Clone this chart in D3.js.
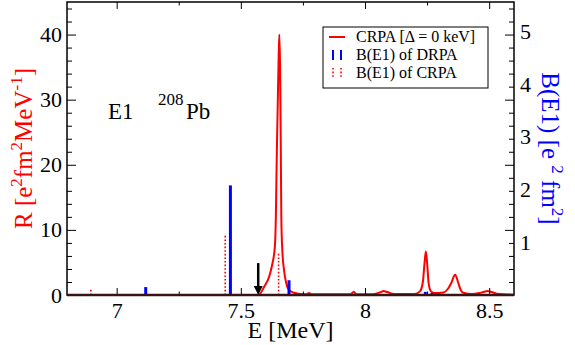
<!DOCTYPE html>
<html>
<head>
<meta charset="utf-8">
<script src="https://cdn.jsdelivr.net/npm/d3@7"></script>
<style>
	body { margin: 0; background: #fff; }
	svg { display: block; }
	svg text { font-family: "Liberation Serif", "Times New Roman", serif; }
</style>
</head>
<body>
<div id="chart"></div>
<script>
// CRPA strength function R(E)
var crpaE = [6.80, 7.570, 7.574, 7.594, 7.614, 7.627, 7.637, 7.641, 7.643, 7.645, 7.648, 7.652,
	7.655, 7.658, 7.660, 7.661, 7.663, 7.667, 7.674, 7.683, 7.694, 7.714, 7.741, 7.765, 7.774,
	7.783, 7.940, 7.955, 7.965, 8.030, 8.060, 8.075, 8.090, 8.115, 8.200, 8.222, 8.233, 8.240,
	8.245, 8.250, 8.256, 8.265, 8.280, 8.316, 8.335, 8.347, 8.363, 8.376, 8.385, 8.396, 8.430,
	8.460, 8.480, 8.493, 8.510, 8.530, 8.560, 8.600];
var crpaR = [0, 0, 0.05, 1.27, 2.8, 4.8, 7.4, 12, 17, 22, 28, 36,
	40, 35, 27, 22, 12, 6.9, 3.8, 1.8, 0.76, 0.35, 0.15, 0.12, 0.3,
	0.12, 0.1, 0.45, 0.12, 0.12, 0.4, 0.6, 0.45, 0.15, 0.15, 0.6, 2.0, 5.0,
	6.7, 5.0, 1.9, 0.6, 0.3, 0.4, 1.0, 1.8, 3.1, 1.8, 0.8, 0.35, 0.15,
	0.3, 0.5, 0.6, 0.45, 0.2, 0.1, 0.05];

// B(E1) of DRPA
var drpaE = [7.117, 7.458, 7.694, 8.243, 8.270];
var drpaB = [0.15, 2.08, 0.28, 0.06, 0.04];

// B(E1) of CRPA
var crpaBE = [6.896, 7.437, 7.652];
var crpaB = [0.12, 1.14, 0.82];

var xTicks = [7, 7.5, 8, 8.5];
var xMinor = [7.25, 7.75, 8.25];
var rTicks = [0, 10, 20, 30, 40];
var rMinor = [2, 4, 6, 8, 12, 14, 16, 18, 22, 24, 26, 28, 32, 34, 36, 38, 42, 44];
var bTicks = [1, 2, 3, 4, 5];
var threshold = 7.57;

var W = 575, H = 345;
var margin = {left: 67, right: 61, top: 2, bottom: 50};
var serif = '"Liberation Serif", "Times New Roman", serif';

var x = d3.scaleLinear().domain([6.8, 8.6]).range([margin.left, W - margin.right]);
var y = d3.scaleLinear().domain([0, 45]).range([H - margin.bottom, margin.top]);
var yB = d3.scaleLinear().domain([0, 5.56]).range([H - margin.bottom, margin.top]);

var svg = d3.select('#chart').append('svg')
	.attr('width', W)
	.attr('height', H)
	.attr('font-family', serif);

// CRPA curve
var line = d3.line()
	.x(function (d) { return x(d[0]); })
	.y(function (d) { return y(d[1]); })
	.curve(d3.curveMonotoneX);

svg.append('path')
	.datum(d3.zip(crpaE, crpaR))
	.attr('d', line)
	.attr('fill', 'none')
	.attr('stroke', '#ff0000')
	.attr('stroke-width', 2);

// B(E1) of CRPA (dotted red)
svg.selectAll('line.bcrpa').data(d3.zip(crpaBE, crpaB))
	.enter().append('line')
	.attr('class', 'bcrpa')
	.attr('x1', function (d) { return x(d[0]); })
	.attr('x2', function (d) { return x(d[0]); })
	.attr('y1', yB(0))
	.attr('y2', function (d) { return yB(d[1]); })
	.attr('stroke', '#ff0000')
	.attr('stroke-width', 1.6)
	.attr('stroke-dasharray', '1.6,2');

// B(E1) of DRPA (blue)
svg.selectAll('line.bdrpa').data(d3.zip(drpaE, drpaB))
	.enter().append('line')
	.attr('class', 'bdrpa')
	.attr('x1', function (d) { return x(d[0]); })
	.attr('x2', function (d) { return x(d[0]); })
	.attr('y1', yB(0))
	.attr('y2', function (d) { return yB(d[1]); })
	.attr('stroke', '#0000ff')
	.attr('stroke-width', 3);

// threshold arrow
var ax = x(threshold);
svg.append('line')
	.attr('x1', ax).attr('x2', ax)
	.attr('y1', y(4.9)).attr('y2', y(0) - 7)
	.attr('stroke', '#000').attr('stroke-width', 2.5);
svg.append('path')
	.attr('d', 'M' + (ax - 4.5) + ',' + (y(0) - 9) + 'L' + (ax + 4.5) + ',' + (y(0) - 9) + 'L' + ax + ',' + y(0) + 'Z')
	.attr('fill', '#000');

// axes
function clean(g) {
	g.attr('font-family', serif).attr('font-size', null);
	g.select('.domain').remove();
	g.selectAll('line').attr('stroke', '#000');
	g.selectAll('text').attr('font-size', 22).attr('fill', '#000');
}

svg.append('g').attr('transform', 'translate(0,' + y(0) + ')')
	.call(d3.axisBottom(x).tickValues(xTicks).tickSize(-7).tickPadding(7).tickFormat(function (d) { return d; }))
	.call(clean);
svg.append('g').attr('transform', 'translate(0,' + y(0) + ')')
	.call(d3.axisBottom(x).tickValues(xMinor).tickSize(-3.5).tickFormat(''))
	.call(clean);
svg.append('g').attr('transform', 'translate(0,' + margin.top + ')')
	.call(d3.axisTop(x).tickValues(xTicks).tickSize(-7).tickFormat(''))
	.call(clean);
svg.append('g').attr('transform', 'translate(0,' + margin.top + ')')
	.call(d3.axisTop(x).tickValues(xMinor).tickSize(-3.5).tickFormat(''))
	.call(clean);

svg.append('g').attr('transform', 'translate(' + margin.left + ',0)')
	.call(d3.axisLeft(y).tickValues(rTicks).tickSize(-9).tickPadding(5))
	.call(clean);
svg.append('g').attr('transform', 'translate(' + margin.left + ',0)')
	.call(d3.axisLeft(y).tickValues(rMinor).tickSize(-5).tickFormat(''))
	.call(clean);
svg.append('g').attr('transform', 'translate(' + (W - margin.right) + ',0)')
	.call(d3.axisRight(y).tickValues(rTicks).tickSize(-9).tickFormat(''))
	.call(clean);
svg.append('g').attr('transform', 'translate(' + (W - margin.right) + ',0)')
	.call(d3.axisRight(y).tickValues(rMinor).tickSize(-5).tickFormat(''))
	.call(clean);
svg.append('g').attr('transform', 'translate(' + (W - margin.right) + ',0)')
	.call(d3.axisRight(yB).tickValues(bTicks).tickSize(0).tickPadding(6).tickFormat(d3.format('d')))
	.call(clean);

// frame
svg.append('rect')
	.attr('x', margin.left).attr('y', margin.top)
	.attr('width', W - margin.left - margin.right)
	.attr('height', H - margin.top - margin.bottom)
	.attr('fill', 'none')
	.attr('stroke', '#000')
	.attr('stroke-width', 1.5);
svg.append('line')
	.attr('x1', margin.left).attr('x2', W - margin.right)
	.attr('y1', y(0)).attr('y2', y(0))
	.attr('stroke', '#3a1414').attr('stroke-width', 2.5);

// axis titles
svg.append('text')
	.attr('x', x(7.7)).attr('y', 338)
	.attr('text-anchor', 'middle')
	.attr('font-size', 24)
	.text('E [MeV]');

var tl = svg.append('text')
	.attr('transform', 'translate(32,' + ((margin.top + y(0)) / 2) + ') rotate(-90)')
	.attr('text-anchor', 'middle')
	.attr('font-size', 25)
	.attr('fill', '#ff0000');
tl.append('tspan').text('R [e');
tl.append('tspan').attr('font-size', 17).attr('dy', -10).text('2');
tl.append('tspan').attr('dy', 10).text('fm');
tl.append('tspan').attr('font-size', 17).attr('dy', -10).text('2');
tl.append('tspan').attr('dy', 10).text('MeV');
tl.append('tspan').attr('font-size', 17).attr('dy', -10).text('-1');
tl.append('tspan').attr('dy', 10).text(']');

var tr = svg.append('text')
	.attr('transform', 'translate(542,' + ((margin.top + y(0)) / 2) + ') rotate(90)')
	.attr('text-anchor', 'middle')
	.attr('font-size', 25)
	.attr('fill', '#0000ff');
tr.append('tspan').text('B(E1) [e ');
tr.append('tspan').attr('font-size', 17).attr('dy', -10).text('2');
tr.append('tspan').attr('dy', 10).text(' fm');
tr.append('tspan').attr('font-size', 17).attr('dy', -10).text('2');
tr.append('tspan').attr('dy', 10).text(']');

// label E1 208Pb
svg.append('text').attr('x', 108).attr('y', 119).attr('font-size', 23).text('E1');
svg.append('text').attr('x', 158).attr('y', 105).attr('font-size', 17).text('208');
svg.append('text').attr('x', 186).attr('y', 119).attr('font-size', 23).text('Pb');

// legend
var lg = svg.append('g');
lg.append('rect')
	.attr('x', 323).attr('y', 27).attr('width', 165).attr('height', 61)
	.attr('fill', '#fff').attr('stroke', '#000').attr('stroke-width', 1);
lg.append('line').attr('x1', 329).attr('x2', 345).attr('y1', 37).attr('y2', 37)
	.attr('stroke', '#ff0000').attr('stroke-width', 2);
[333, 341].forEach(function (lx) {
	lg.append('line').attr('x1', lx).attr('x2', lx).attr('y1', 50).attr('y2', 60)
		.attr('stroke', '#0000ff').attr('stroke-width', 2);
	lg.append('line').attr('x1', lx).attr('x2', lx).attr('y1', 68).attr('y2', 78)
		.attr('stroke', '#ff0000').attr('stroke-width', 1.6).attr('stroke-dasharray', '1.6,2');
});
var legendText = ['CRPA [\u0394 = 0 keV]', 'B(E1) of DRPA', 'B(E1) of CRPA'];
lg.selectAll('text.lt').data(legendText)
	.enter().append('text')
	.attr('class', 'lt')
	.attr('x', 356)
	.attr('y', function (d, i) { return 42 + i * 18; })
	.attr('font-size', 16)
	.text(function (d) { return d; });
</script>
</body>
</html>
